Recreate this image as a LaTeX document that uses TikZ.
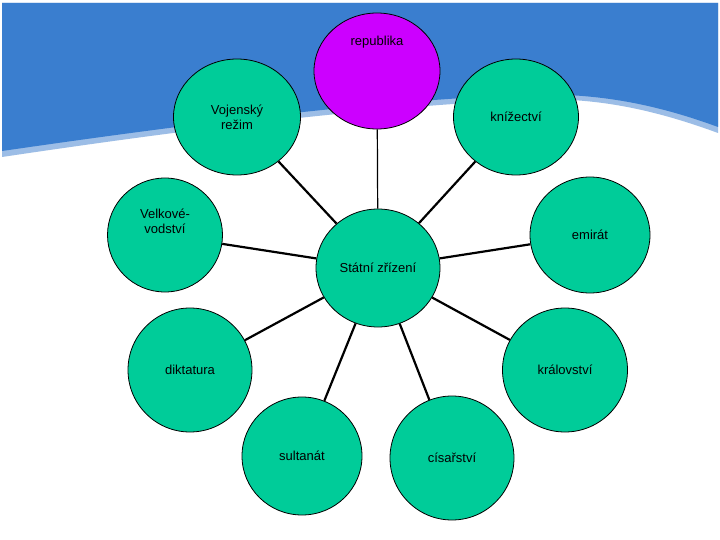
\documentclass[tikz,border=0pt]{standalone}
\usepackage{fontspec}
\setmainfont{Liberation Sans}
\begin{document}
\begin{tikzpicture}[x=1pt,y=-1pt,
 c/.style={ellipse,draw=black,fill=green1,line width=0.8pt,inner sep=0pt,align=center,font=\fontsize{13}{15}\selectfont},
 l/.style={line width=2.2pt}]
\usetikzlibrary{shapes.geometric}
\definecolor{green1}{HTML}{00CC99}
\definecolor{mag}{HTML}{CC00FF}
\definecolor{wave}{HTML}{3A7ECF}
\definecolor{wavel}{HTML}{9CBDE6}
\useasboundingbox (0,0) rectangle (720,540);
\fill[white] (0,0) rectangle (720,540);
\fill[wavel] (2,3) -- (718,3) -- (718,133) .. controls (650,108) and (590,96) .. (520,100) .. controls (400,106) and (250,120) .. (2,157) -- cycle;
\fill[wave] (2,3) -- (718,3) -- (718,127) .. controls (650,102) and (590,92) .. (520,95) .. controls (400,100) and (250,115) .. (2,151) -- cycle;
\node[c,minimum width=124,minimum height=118] (s) at (378,268) {Státní zřízení};
\node[c,fill=mag,minimum width=126,minimum height=116,text depth=60pt] (r) at (377,71) {republika};
\node[c,minimum width=127,minimum height=116] (v) at (237,117) {Vojenský\\režim};
\node[c,minimum width=125,minimum height=116] (k) at (516,117) {knížectví};
\node[c,minimum width=115,minimum height=114] (g) at (165,235) {Velkové-\\vodství\\[12pt]};
\node[c,minimum width=120,minimum height=116] (e) at (590,235) {emirát};
\node[c,minimum width=124,minimum height=124] (d) at (190,370) {diktatura};
\node[c,minimum width=125,minimum height=124] (kr) at (565,370) {království};
\node[c,minimum width=120,minimum height=118] (su) at (302,456) {sultanát};
\node[c,minimum width=124,minimum height=124] (ci) at (452,458) {císařství};
\draw[line width=1.2pt] (s) -- (r);
\foreach \n in {v,k,g,e,d,kr,su,ci} \draw[l] (s) -- (\n);
\end{tikzpicture}
\end{document}
